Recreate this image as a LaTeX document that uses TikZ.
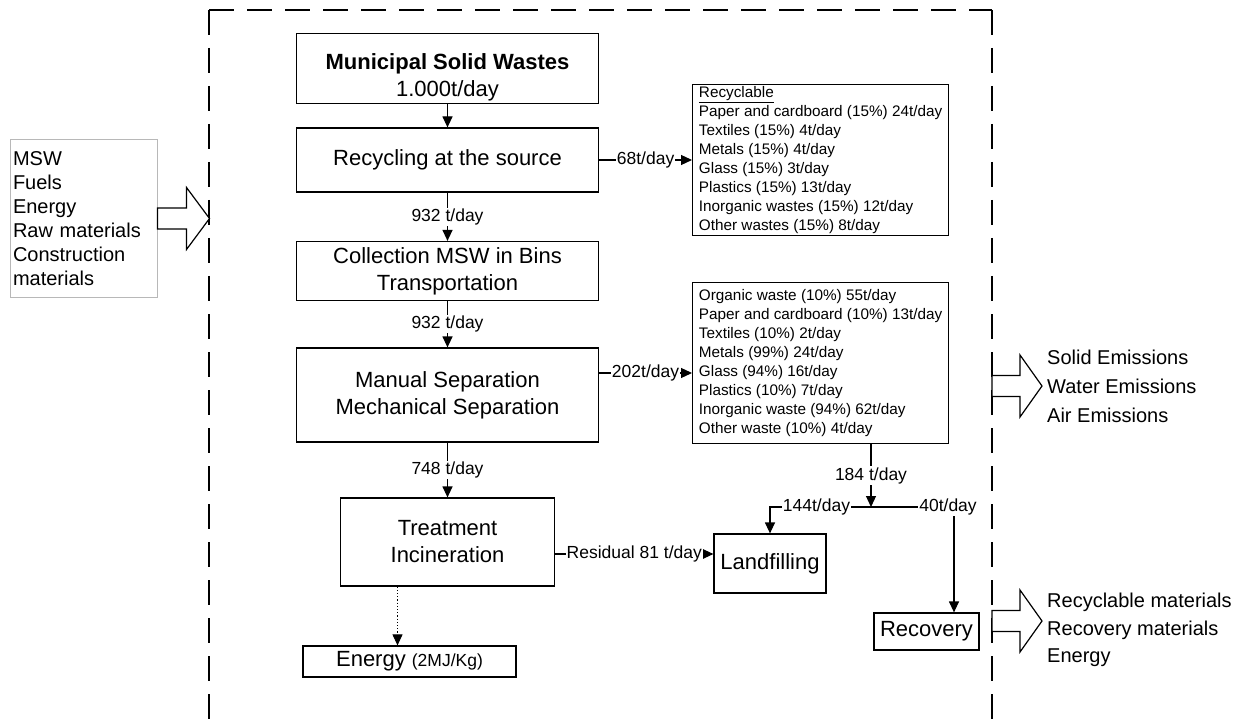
\documentclass[tikz,border=0pt]{standalone}
\usepackage{fontspec}
\setmainfont{Liberation Sans}
\usetikzlibrary{arrows.meta}
\definecolor{inline}{HTML}{B8B8B8}
\newcommand{\fatarrow}[3]{\draw[fat] (#1) ++(0,-10.5) -- ++(#2,0) -- ++(0,-20.5) -- ++(#3,31) -- ++(-#3,31) -- ++(0,-20.5) -- ++(-#2,0) -- cycle;}

\begin{document}
\begin{tikzpicture}[x=1pt, y=-1pt,
  bx/.style={draw, line width=1.2pt, inner sep=2pt, align=center, font=\fontsize{22}{27}\selectfont},
  lst/.style={draw, line width=1.2pt, anchor=north west, align=left, minimum width=256pt, inner xsep=5pt, inner ysep=2pt, font=\fontsize{15.3}{19}\selectfont},
  lbl/.style={fill=white, inner sep=1pt, font=\fontsize{17.5}{20}\selectfont},
  arr/.style={-{Triangle[length=11pt,width=10pt]}, line width=1.2pt},
  frame/.style={line width=2pt, dash pattern=on 25pt off 13pt},
  fat/.style={line width=1.2pt, fill=white},
  side/.style={anchor=west, align=left, inner sep=1pt}]
\useasboundingbox (0,0) rectangle (1239,727);
\draw[frame] (209,10) -- (209,740);
\draw[frame] (209,10) -- (992,10);
\draw[frame] (992,10) -- (992,740);

\node[bx, minimum width=302pt, minimum height=69pt] (msw) at (447.5,68.5) {\rule{0pt}{34pt}\textbf{Municipal Solid Wastes}\\1.000t/day};
\node[bx, minimum width=302pt, minimum height=64pt] (recyc) at (447.5,160) {Recycling at the source};
\node[bx, minimum width=302pt, minimum height=59pt] (coll) at (447.5,271) {Collection MSW in Bins\\Transportation};
\node[bx, minimum width=302pt, minimum height=94pt] (sep) at (447.5,395) {Manual Separation\\Mechanical Separation};
\node[bx, minimum width=214pt, minimum height=88pt] (treat) at (447.5,542) {Treatment\\Incineration};
\node[bx, minimum width=213pt, minimum height=31pt] (energy) at (409.5,661.5) {Energy {\fontsize{17.5}{20}\selectfont(2MJ/Kg)}};
\node[bx, minimum width=112pt, minimum height=59pt] (land) at (770,563.5) {Landfilling};
\node[bx, minimum width=105pt, minimum height=37pt] (recov) at (926.5,631.5) {Recovery};

\node[lst, minimum height=151pt] (recl) at (692,84) {\underline{Recyclable}\\Paper and cardboard (15\%) 24t/day\\Textiles (15\%) 4t/day\\Metals (15\%) 4t/day\\Glass (15\%) 3t/day\\Plastics (15\%) 13t/day\\Inorganic wastes (15\%) 12t/day\\Other wastes (15\%) 8t/day};
\node[lst, minimum height=161pt] (sepl) at (692,282) {Organic waste (10\%) 55t/day\\Paper and cardboard (10\%) 13t/day\\Textiles (10\%) 2t/day\\Metals (99\%) 24t/day\\Glass (94\%) 16t/day\\Plastics (10\%) 7t/day\\Inorganic waste (94\%) 62t/day\\Other waste (10\%) 4t/day};

\node[draw=inline, line width=1pt, minimum width=147pt, minimum height=157pt, text width=141pt, inner xsep=3pt, align=left, font=\fontsize{20}{24}\selectfont] (inp) at (83.5,218.5) {MSW\\Fuels\\Energy\\Raw materials\\Construction\\materials};
\node[side, font=\fontsize{20}{29}\selectfont] (emis) at (1046,386) {Solid Emissions\\Water Emissions\\Air Emissions};
\node[side, font=\fontsize{20}{27.5}\selectfont] (outs) at (1046,630) {Recyclable materials\\Recovery materials\\Energy};

\fatarrow{inp.east}{29}{23}
\fatarrow{992,386}{28}{22}
\fatarrow{992,621}{28}{22}

\draw[arr] (msw) -- (recyc);
\draw[arr] (recyc) -- node[lbl]{932 t/day} (coll);
\draw[arr] (coll) -- node[lbl]{932 t/day} (sep);
\draw[arr] (sep) -- node[lbl]{748 t/day} (treat);
\draw[arr] (recyc) -- node[lbl]{68t/day} (recyc -| recl.west);
\coordinate (s2) at ([yshift=22pt]sep.east);
\draw[arr] (s2) -- node[lbl]{202t/day} (s2 -| sepl.west);
\coordinate (t2) at ([yshift=-12pt]treat.east);
\draw[arr] (t2) -- node[lbl]{Residual 81 t/day} (t2 -| land.west);
\coordinate (t3) at ([xshift=-50pt]treat.south);
\draw[arr, dotted, line width=1pt] (t3) -- (t3 |- energy.north);

\coordinate (jn) at (871,507);
\coordinate (rv) at ([xshift=27.5pt]recov.north);
\draw[arr] (sepl.south -| jn) -- node[lbl]{184 t/day} (jn);
\draw[arr] (jn) -| node[lbl, pos=0.27]{144t/day} (land.north);
\draw[arr] (jn) -| node[lbl, pos=0.5, xshift=-6pt]{40t/day} (rv);
\end{tikzpicture}
\end{document}
